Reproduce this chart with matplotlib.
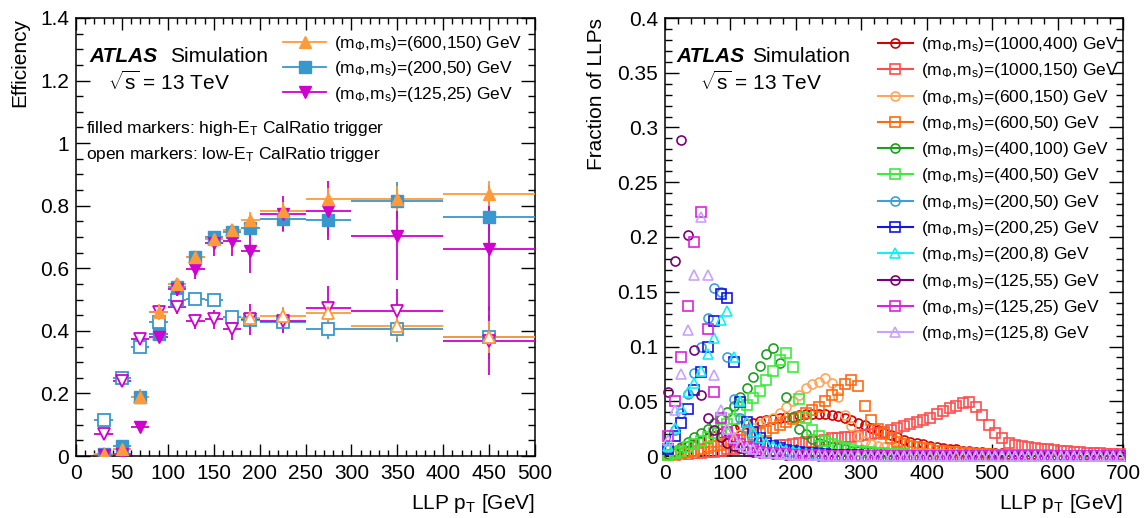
import numpy as np
import matplotlib
matplotlib.use("Agg")
import matplotlib.pyplot as plt
from matplotlib.lines import Line2D
from matplotlib.ticker import MultipleLocator, FuncFormatter

plt.rcParams['font.family'] = ['Liberation Sans', 'DejaVu Sans']
plt.rcParams['mathtext.fontset'] = 'custom'
plt.rcParams['mathtext.rm'] = 'Liberation Sans'
plt.rcParams['mathtext.it'] = 'Liberation Sans:italic'
plt.rcParams['mathtext.bf'] = 'Liberation Sans:bold'

# ---------------- left panel data: trigger efficiency ----------------
eff_pt = [30, 50, 70, 90, 110, 130, 150, 170, 190, 225, 275, 350, 450]
eff_halfwidth = [10, 10, 10, 10, 10, 10, 10, 10, 10, 25, 25, 50, 50]

hi_600_150 = [0.005, 0.021, 0.19, 0.46, 0.55, 0.635, 0.693, 0.722, 0.754, 0.782, 0.822, 0.822, 0.838]
hi_600_150_err = [0.005, 0.02, 0.025, 0.025, 0.02, 0.02, 0.02, 0.02, 0.025, 0.03, 0.035, 0.04, 0.04]
hi_200_50 = [0.007, 0.032, 0.19, 0.39, 0.54, 0.635, 0.70, 0.715, 0.73, 0.757, 0.753, 0.816, 0.765]
hi_200_50_err = [0.005, 0.01, 0.015, 0.02, 0.02, 0.02, 0.02, 0.025, 0.03, 0.04, 0.05, 0.06, 0.10]
hi_125_25 = [0.002, 0.005, 0.094, 0.38, 0.535, 0.597, 0.68, 0.688, 0.656, 0.775, 0.784, 0.702, 0.662]
hi_125_25_err = [0.003, 0.005, 0.01, 0.02, 0.025, 0.03, 0.04, 0.05, 0.07, 0.055, 0.095, 0.14, 0.2]

lo_600_150 = [0.005, 0.021, 0.19, 0.39, 0.55, 0.635, 0.693, 0.722, 0.44, 0.446, 0.457, 0.416, 0.38]
lo_600_150_err = [0.005, 0.02, 0.02, 0.02, 0.02, 0.02, 0.02, 0.02, 0.025, 0.03, 0.03, 0.04, 0.05]
lo_200_50 = [0.114, 0.249, 0.35, 0.427, 0.50, 0.501, 0.50, 0.443, 0.434, 0.427, 0.405, 0.405, 0.38]
lo_200_50_err = [0.01, 0.01, 0.015, 0.02, 0.015, 0.015, 0.015, 0.02, 0.025, 0.03, 0.03, 0.04, 0.07]
lo_125_25 = [0.069, 0.24, 0.373, 0.46, 0.475, 0.43, 0.437, 0.405, 0.437, 0.432, 0.473, 0.463, 0.368]
lo_125_25_err = [0.01, 0.015, 0.02, 0.02, 0.02, 0.025, 0.03, 0.035, 0.05, 0.04, 0.07, 0.07, 0.11]

# ---------------- right panel data: LLP pT fractions (10 GeV bins) ----------------
frac_bin_edges = np.arange(0, 710, 10)
frac_pt = 0.5 * (frac_bin_edges[:-1] + frac_bin_edges[1:])

f_1000_400 = [0.002, 0.004, 0.006, 0.009, 0.011, 0.014, 0.016, 0.018, 0.021, 0.023,
              0.025, 0.027, 0.029, 0.030, 0.032, 0.033, 0.034, 0.035, 0.0355, 0.036,
              0.037, 0.038, 0.0385, 0.0385, 0.038, 0.037, 0.0365, 0.035, 0.033, 0.030,
              0.028, 0.026, 0.024, 0.021, 0.019, 0.017, 0.015, 0.013, 0.012, 0.011,
              0.0095, 0.0085, 0.0075, 0.0065, 0.006, 0.005, 0.0045, 0.004, 0.0035, 0.003,
              0.0028, 0.0025, 0.0022, 0.002, 0.0018, 0.0016, 0.0014, 0.0012, 0.0011, 0.001,
              0.0009, 0.0008, 0.0007, 0.0006, 0.0005, 0.0005, 0.0004, 0.0004, 0.0003, 0.0003]
f_1000_150 = [0.0005, 0.001, 0.0015, 0.002, 0.0025, 0.003, 0.0035, 0.004, 0.005, 0.006,
              0.0065, 0.007, 0.0075, 0.008, 0.0085, 0.009, 0.0095, 0.010, 0.0105, 0.011,
              0.012, 0.0125, 0.013, 0.014, 0.015, 0.016, 0.0165, 0.017, 0.0175, 0.018,
              0.019, 0.020, 0.021, 0.022, 0.024, 0.026, 0.027, 0.029, 0.031, 0.033,
              0.035, 0.038, 0.041, 0.044, 0.046, 0.0485, 0.049, 0.045, 0.037, 0.028,
              0.021, 0.016, 0.012, 0.010, 0.009, 0.008, 0.007, 0.0065, 0.006, 0.0055,
              0.005, 0.0045, 0.004, 0.0035, 0.003, 0.0028, 0.0025, 0.0022, 0.002, 0.0018]
f_600_150 = [0.0005, 0.001, 0.002, 0.003, 0.004, 0.006, 0.008, 0.010, 0.012, 0.015,
             0.017, 0.020, 0.023, 0.026, 0.029, 0.032, 0.035, 0.039, 0.045, 0.050,
             0.056, 0.062, 0.066, 0.068, 0.071, 0.067, 0.054, 0.037, 0.027, 0.018,
             0.014, 0.011, 0.009, 0.008, 0.007, 0.006, 0.005, 0.0045, 0.004, 0.0035,
             0.003, 0.0028, 0.0025, 0.0022, 0.002, 0.0018, 0.0016, 0.0014, 0.0012, 0.001,
             0.0009, 0.0008, 0.0007, 0.0006, 0.0005, 0.0005, 0.0004, 0.0004, 0.0003, 0.0003,
             0.0003, 0.0002, 0.0002, 0.0002, 0.0002, 0.0001, 0.0001, 0.0001, 0.0001, 0.0001]
f_600_50 = [0.001, 0.002, 0.003, 0.004, 0.005, 0.006, 0.007, 0.009, 0.010, 0.011,
            0.013, 0.015, 0.017, 0.019, 0.021, 0.023, 0.026, 0.028, 0.031, 0.034,
            0.036, 0.039, 0.042, 0.045, 0.050, 0.056, 0.060, 0.066, 0.069, 0.064,
            0.046, 0.033, 0.025, 0.020, 0.016, 0.013, 0.011, 0.009, 0.008, 0.007,
            0.006, 0.005, 0.0045, 0.004, 0.0035, 0.003, 0.0025, 0.002, 0.0018, 0.0015,
            0.0013, 0.0011, 0.001, 0.0009, 0.0008, 0.0007, 0.0006, 0.0005, 0.0005, 0.0004,
            0.0004, 0.0003, 0.0003, 0.0003, 0.0002, 0.0002, 0.0002, 0.0002, 0.0001, 0.0001]
f_400_100 = [0.002, 0.005, 0.0085, 0.013, 0.017, 0.021, 0.025, 0.030, 0.034, 0.040,
             0.046, 0.054, 0.062, 0.072, 0.082, 0.093, 0.099, 0.085, 0.054, 0.036,
             0.025, 0.020, 0.0155, 0.012, 0.010, 0.0085, 0.007, 0.006, 0.005, 0.0045,
             0.004, 0.0035, 0.003, 0.0025, 0.002, 0.0018, 0.0015, 0.0013, 0.0011, 0.001,
             0.0009, 0.0008, 0.0007, 0.0006, 0.0005, 0.0004, 0.0004, 0.0003, 0.0003, 0.0002,
             0.0002, 0.0002, 0.0001, 0.0001, 0.0001, 0.0001, 0.0001, 0.0001, 0.0, 0.0,
             0.0, 0.0, 0.0, 0.0, 0.0, 0.0, 0.0, 0.0, 0.0, 0.0]
f_400_50 = [0.001, 0.003, 0.005, 0.008, 0.011, 0.014, 0.017, 0.021, 0.025, 0.029,
            0.034, 0.041, 0.047, 0.053, 0.059, 0.069, 0.078, 0.088, 0.094, 0.081,
            0.052, 0.035, 0.024, 0.018, 0.014, 0.011, 0.009, 0.007, 0.006, 0.005,
            0.004, 0.0035, 0.003, 0.0025, 0.002, 0.0018, 0.0015, 0.0013, 0.0011, 0.001,
            0.0009, 0.0008, 0.0007, 0.0006, 0.0005, 0.0004, 0.0004, 0.0003, 0.0003, 0.0002,
            0.0002, 0.0002, 0.0001, 0.0001, 0.0001, 0.0001, 0.0001, 0.0001, 0.0, 0.0,
            0.0, 0.0, 0.0, 0.0, 0.0, 0.0, 0.0, 0.0, 0.0, 0.0]
f_200_50 = [0.007, 0.024, 0.039, 0.057, 0.076, 0.100, 0.126, 0.153, 0.150, 0.090,
            0.052, 0.035, 0.025, 0.018, 0.013, 0.010, 0.008, 0.006, 0.005, 0.004,
            0.003, 0.0025, 0.002, 0.0015, 0.0012, 0.001, 0.0008, 0.0006, 0.0005, 0.0004,
            0.0003, 0.0003, 0.0002, 0.0002, 0.0001, 0.0001, 0.0001, 0.0, 0.0, 0.0,
            0.0, 0.0, 0.0, 0.0, 0.0, 0.0, 0.0, 0.0, 0.0, 0.0,
            0.0, 0.0, 0.0, 0.0, 0.0, 0.0, 0.0, 0.0, 0.0, 0.0,
            0.0, 0.0, 0.0, 0.0, 0.0, 0.0, 0.0, 0.0, 0.0, 0.0]
f_200_25 = [0.006, 0.018, 0.030, 0.043, 0.060, 0.077, 0.100, 0.123, 0.148, 0.144,
            0.086, 0.049, 0.031, 0.022, 0.016, 0.012, 0.009, 0.007, 0.0055, 0.0045,
            0.0035, 0.003, 0.0025, 0.002, 0.0015, 0.0012, 0.001, 0.0008, 0.0006, 0.0005,
            0.0004, 0.0003, 0.0003, 0.0002, 0.0002, 0.0001, 0.0001, 0.0, 0.0, 0.0,
            0.0, 0.0, 0.0, 0.0, 0.0, 0.0, 0.0, 0.0, 0.0, 0.0,
            0.0, 0.0, 0.0, 0.0, 0.0, 0.0, 0.0, 0.0, 0.0, 0.0,
            0.0, 0.0, 0.0, 0.0, 0.0, 0.0, 0.0, 0.0, 0.0, 0.0]
f_200_8 = [0.009, 0.026, 0.044, 0.058, 0.067, 0.078, 0.093, 0.108, 0.124, 0.132,
           0.090, 0.050, 0.031, 0.022, 0.016, 0.012, 0.009, 0.007, 0.0055, 0.0045,
           0.0035, 0.003, 0.0025, 0.002, 0.0015, 0.0012, 0.001, 0.0008, 0.0006, 0.0005,
           0.0004, 0.0003, 0.0003, 0.0002, 0.0002, 0.0001, 0.0001, 0.0, 0.0, 0.0,
           0.0, 0.0, 0.0, 0.0, 0.0, 0.0, 0.0, 0.0, 0.0, 0.0,
           0.0, 0.0, 0.0, 0.0, 0.0, 0.0, 0.0, 0.0, 0.0, 0.0,
           0.0, 0.0, 0.0, 0.0, 0.0, 0.0, 0.0, 0.0, 0.0, 0.0]
f_125_55 = [0.058, 0.178, 0.289, 0.202, 0.097, 0.056, 0.035, 0.024, 0.017, 0.012,
            0.009, 0.007, 0.005, 0.004, 0.003, 0.0025, 0.002, 0.0015, 0.0012, 0.001,
            0.0008, 0.0006, 0.0005, 0.0004, 0.0003, 0.0002, 0.0002, 0.0001, 0.0001, 0.0,
            0.0, 0.0, 0.0, 0.0, 0.0, 0.0, 0.0, 0.0, 0.0, 0.0,
            0.0, 0.0, 0.0, 0.0, 0.0, 0.0, 0.0, 0.0, 0.0, 0.0,
            0.0, 0.0, 0.0, 0.0, 0.0, 0.0, 0.0, 0.0, 0.0, 0.0,
            0.0, 0.0, 0.0, 0.0, 0.0, 0.0, 0.0, 0.0, 0.0, 0.0]
f_125_25 = [0.018, 0.050, 0.090, 0.137, 0.195, 0.223, 0.116, 0.058, 0.035, 0.022,
            0.015, 0.011, 0.008, 0.006, 0.004, 0.003, 0.0025, 0.002, 0.0015, 0.0012,
            0.001, 0.0008, 0.0006, 0.0005, 0.0004, 0.0003, 0.0002, 0.0002, 0.0001, 0.0001,
            0.0, 0.0, 0.0, 0.0, 0.0, 0.0, 0.0, 0.0, 0.0, 0.0,
            0.0, 0.0, 0.0, 0.0, 0.0, 0.0, 0.0, 0.0, 0.0, 0.0,
            0.0, 0.0, 0.0, 0.0, 0.0, 0.0, 0.0, 0.0, 0.0, 0.0,
            0.0, 0.0, 0.0, 0.0, 0.0, 0.0, 0.0, 0.0, 0.0, 0.0]
f_125_8 = [0.015, 0.042, 0.075, 0.115, 0.165, 0.218, 0.165, 0.074, 0.042, 0.025,
           0.016, 0.011, 0.008, 0.006, 0.004, 0.003, 0.0025, 0.002, 0.0015, 0.0012,
           0.001, 0.0008, 0.0006, 0.0005, 0.0004, 0.0003, 0.0002, 0.0002, 0.0001, 0.0001,
           0.0, 0.0, 0.0, 0.0, 0.0, 0.0, 0.0, 0.0, 0.0, 0.0,
           0.0, 0.0, 0.0, 0.0, 0.0, 0.0, 0.0, 0.0, 0.0, 0.0,
           0.0, 0.0, 0.0, 0.0, 0.0, 0.0, 0.0, 0.0, 0.0, 0.0,
           0.0, 0.0, 0.0, 0.0, 0.0, 0.0, 0.0, 0.0, 0.0, 0.0]

frac_labels = ["(1000,400)", "(1000,150)", "(600,150)", "(600,50)", "(400,100)", "(400,50)",
               "(200,50)", "(200,25)", "(200,8)", "(125,55)", "(125,25)", "(125,8)"]
frac_series = [f_1000_400, f_1000_150, f_600_150, f_600_50, f_400_100, f_400_50,
               f_200_50, f_200_25, f_200_8, f_125_55, f_125_25, f_125_8]
frac_colors = ['#D40000', '#FF4D4D', '#FFA65C', '#FF6A10', '#1E9E1E', '#3CEB3C',
               '#3D9FDD', '#1414E6', '#14F0F0', '#7A007A', '#DD22DD', '#C9A2FF']
frac_markers = ['o', 's', 'o', 's', 'o', 's', 'o', 's', '^', 'o', 's', '^']

W, H = 1146, 518
fig = plt.figure(figsize=(W / 100, H / 100), dpi=100)

def px_axes(x0, x1, y0, y1):
    return fig.add_axes([x0 / W, 1 - y1 / H, (x1 - x0) / W, (y1 - y0) / H])

axL = px_axes(76, 535, 18, 456)
axR = px_axes(665, 1123, 18, 456)

fmt = FuncFormatter(lambda v, p: f"{v:g}")

def style_axes(ax, xmaj, xmin, ymaj, ymin):
    ax.xaxis.set_major_locator(MultipleLocator(xmaj))
    ax.xaxis.set_minor_locator(MultipleLocator(xmin))
    ax.yaxis.set_major_locator(MultipleLocator(ymaj))
    ax.yaxis.set_minor_locator(MultipleLocator(ymin))
    ax.xaxis.set_major_formatter(fmt)
    ax.yaxis.set_major_formatter(fmt)
    ax.tick_params(which='both', direction='in', top=True, right=True, labelsize=15, width=1.0)
    ax.tick_params(axis='x', which='major', length=8.5, pad=6)
    ax.tick_params(axis='x', which='minor', length=4.5)
    ax.tick_params(axis='y', which='major', length=10, pad=5)
    ax.tick_params(axis='y', which='minor', length=5)
    for s in ax.spines.values():
        s.set_linewidth(1.1)

# ---------------- left panel ----------------
c_or, c_bl, c_mg = '#FF9A3A', '#3898CE', '#D000D0'
ms_l = 8
open_sets = [(lo_200_50, lo_200_50_err, 's', c_bl),
             (lo_125_25, lo_125_25_err, 'v', c_mg),
             (lo_600_150, lo_600_150_err, '^', c_or)]
filled_sets = [(hi_200_50, hi_200_50_err, 's', c_bl),
               (hi_125_25, hi_125_25_err, 'v', c_mg),
               (hi_600_150, hi_600_150_err, '^', c_or)]
for vals, errs, m, c in open_sets:
    axL.errorbar(eff_pt, vals, xerr=eff_halfwidth, yerr=errs, fmt=m, color=c, mfc='white',
                 mec=c, mew=1.3, ms=ms_l, elinewidth=1.3, capsize=0, zorder=3)
for vals, errs, m, c in filled_sets:
    axL.errorbar(eff_pt, vals, xerr=eff_halfwidth, yerr=errs, fmt=m, color=c, mfc=c,
                 mec=c, ms=ms_l, elinewidth=1.3, capsize=0, zorder=4)

axL.set_xlim(0, 500)
axL.set_ylim(0, 1.4)
style_axes(axL, 50, 10, 0.2, 0.05)
axL.set_xlabel(r'LLP p$_{\mathrm{T}}$ [GeV]', fontsize=15, loc='right', labelpad=6)
axL.set_ylabel('Efficiency', fontsize=15, loc='top', labelpad=8)

handlesL = [Line2D([], [], color=c_or, marker='^', ms=ms_l, lw=1.3),
            Line2D([], [], color=c_bl, marker='s', ms=ms_l, lw=1.3),
            Line2D([], [], color=c_mg, marker='v', ms=ms_l, lw=1.3)]
labelsL = [r'(m$_{\Phi}$,m$_{\mathrm{s}}$)=(600,150) GeV',
           r'(m$_{\Phi}$,m$_{\mathrm{s}}$)=(200,50) GeV',
           r'(m$_{\Phi}$,m$_{\mathrm{s}}$)=(125,25) GeV']
fig.legend(handlesL, labelsL, loc='upper left', bbox_to_anchor=(283 / W, 1 - 34 / H),
           frameon=False, fontsize=12.5, handlelength=2.5, handletextpad=0.45,
           labelspacing=0.36, borderpad=0, borderaxespad=0)

def ptext(x, y, s, **kw):
    fig.text(x / W, 1 - y / H, s, va='baseline', ha='left', **kw)

ptext(89, 62, 'ATLAS', fontsize=15, weight='bold', style='italic')
ptext(170, 62, 'Simulation', fontsize=15)
ptext(108, 90, r'$\sqrt{\mathrm{s}}$ = 13 TeV', fontsize=15)
ptext(86, 133, r'filled markers: high-E$_{\mathrm{T}}$ CalRatio trigger', fontsize=12.5)
ptext(86, 159, r'open markers: low-E$_{\mathrm{T}}$ CalRatio trigger', fontsize=12.5)

# ---------------- right panel ----------------
for vals, c, m in zip(frac_series, frac_colors, frac_markers):
    axR.plot(frac_pt, vals, linestyle='none', marker=m, mfc='none', mec=c, mew=1.2,
             ms=6.5, clip_on=False, zorder=3)
axR.set_xlim(0, 700)
axR.set_ylim(0, 0.4)
style_axes(axR, 100, 20, 0.05, 0.01)
axR.set_xlabel(r'LLP p$_{\mathrm{T}}$ [GeV]', fontsize=15, loc='right', labelpad=6)
axR.set_ylabel('Fraction of LLPs', fontsize=15, loc='top', labelpad=8)

handlesR = [Line2D([], [], color=c, marker=m, mfc='none', mec=c, mew=1.2, ms=6.5, lw=1.5)
            for c, m in zip(frac_colors, frac_markers)]
labelsR = [r'(m$_{\Phi}$,m$_{\mathrm{s}}$)=' + l + ' GeV' for l in frac_labels]
fig.legend(handlesR, labelsR, loc='upper left', bbox_to_anchor=(878 / W, 1 - 35 / H),
           frameon=False, fontsize=12.5, handlelength=2.0, handletextpad=0.5,
           labelspacing=0.42, borderpad=0, borderaxespad=0)

ptext(676, 62, 'ATLAS', fontsize=15, weight='bold', style='italic')
ptext(752, 62, 'Simulation', fontsize=15)
ptext(700, 90, r'$\sqrt{\mathrm{s}}$ = 13 TeV', fontsize=15)

fig.savefig('out.png', dpi=100)
